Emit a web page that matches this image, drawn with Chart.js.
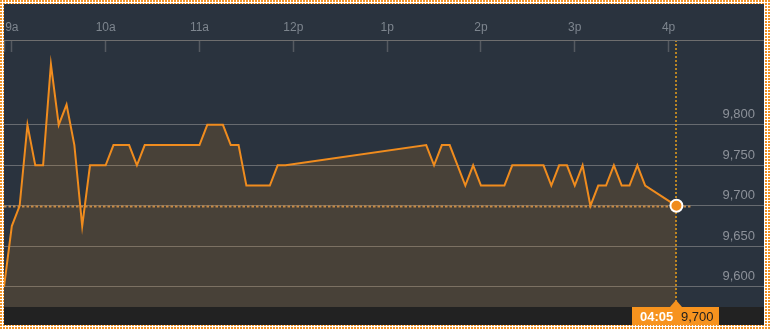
<!DOCTYPE html>
<html>
<head>
<meta charset="utf-8">
<script src="https://cdn.jsdelivr.net/npm/chart.js@4.4.1/dist/chart.umd.min.js"></script>
<style>
  html, body { margin: 0; padding: 0; }
  body {
    width: 770px; height: 330px; position: relative; overflow: hidden;
    background:
      linear-gradient(90deg, transparent 2px, #ffffff 2px) 0 0 / 3px 3px,
      linear-gradient(transparent 2px, #ffffff 2px) 0 0 / 3px 3px,
      #f39325;
  }
  #wrap { position: absolute; left: 4px; top: 4px; width: 760px; height: 321px; background: #2a333e; }
</style>
</head>
<body>
<div id="wrap"><canvas id="priceChart" width="760" height="321"></canvas></div>
<script>
// intraday quotes, 5 minute steps
const times = ['08:55','09:00','09:05','09:10','09:15','09:20','09:25','09:30','09:35','09:40',
  '09:45','09:50','10:00','10:05','10:15','10:20','10:25','11:00','11:05','11:15',
  '11:20','11:25','11:30','11:45','11:50','11:55','13:25','13:30','13:35','13:40',
  '13:50','13:55','14:00','14:15','14:20','14:40','14:45','14:50','14:55','15:00',
  '15:05','15:10','15:15','15:20','15:25','15:30','15:35','15:40','15:45','16:05'];
const prices = [9600,9675,9700,9800,9750,9750,9875,9800,9825,9775,
  9675,9750,9750,9775,9775,9750,9775,9775,9800,9800,
  9775,9775,9725,9725,9750,9750,9775,9750,9775,9775,
  9725,9750,9725,9725,9750,9750,9725,9750,9750,9725,
  9750,9700,9725,9725,9750,9725,9725,9750,9725,9700];

const hourTimes = ['09:00','10:00','11:00','12:00','13:00','14:00','15:00','16:00'];
const hourLabels = ['9a','10a','11a','12p','1p','2p','3p','4p'];
const priceTicks = [9600,9650,9700,9750,9800];

const ORANGE = '#f08c1e';

function toMin(t) {
  const p = t.split(':');
  return +p[0] * 60 + +p[1];
}
function fmt(v) {
  return v.toLocaleString('en-US');
}

const hourMins = hourTimes.map(toMin);
const points = times.map((t, i) => ({ x: toMin(t), y: prices[i] }));
const lastIdx = points.length - 1;

// axis line, bottom band, dotted cross hair and last value tag
const decor = {
  id: 'decor',
  beforeDatasetsDraw(chart) {
    const ctx = chart.ctx, area = chart.chartArea;
    const xs = chart.scales.x, ys = chart.scales.y;
    const px = xs.getPixelForValue(points[lastIdx].x);
    const py = ys.getPixelForValue(points[lastIdx].y);
    ctx.save();
    ctx.setLineDash([2.5, 2]);
    ctx.lineWidth = 2;
    ctx.strokeStyle = '#c08a4c';
    ctx.beginPath();
    ctx.moveTo(area.left, Math.round(py) + 0.5);
    ctx.lineTo(px + 14, Math.round(py) + 0.5);
    ctx.stroke();
    ctx.setLineDash([2, 2]);
    ctx.lineWidth = 1.5;
    ctx.strokeStyle = '#e7a01c';
    ctx.beginPath();
    ctx.moveTo(Math.round(px), xs.bottom - 12);
    ctx.lineTo(Math.round(px), area.bottom);
    ctx.stroke();
    ctx.restore();
  },
  afterDraw(chart) {
    const ctx = chart.ctx, area = chart.chartArea;
    const xs = chart.scales.x;
    ctx.save();
    // top axis line
    ctx.strokeStyle = '#6e6e6e';
    ctx.lineWidth = 1;
    ctx.beginPath();
    ctx.moveTo(0, xs.bottom - 12 + 0.5);
    ctx.lineTo(chart.width, xs.bottom - 12 + 0.5);
    ctx.stroke();
    // bottom band
    ctx.fillStyle = '#222222';
    ctx.fillRect(0, area.bottom, chart.width, chart.height - area.bottom);
    // last value tag
    const px = Math.round(xs.getPixelForValue(points[lastIdx].x));
    const top = area.bottom;
    ctx.fillStyle = '#f7931e';
    ctx.beginPath();
    ctx.moveTo(px - 6, top);
    ctx.lineTo(px, top - 7);
    ctx.lineTo(px + 6, top);
    ctx.closePath();
    ctx.fill();
    ctx.fillRect(px - 44, top, 87, chart.height - top);
    const t = times[lastIdx].split(':');
    const label = String(+t[0] > 12 ? +t[0] - 12 : +t[0]).padStart(2, '0') + ':' + t[1];
    ctx.textBaseline = 'middle';
    ctx.textAlign = 'left';
    ctx.font = 'bold 13px "Liberation Sans", Arial, sans-serif';
    ctx.fillStyle = '#ffffff';
    ctx.fillText(label, px - 36, top + 10);
    ctx.font = '13px "Liberation Sans", Arial, sans-serif';
    ctx.fillStyle = '#1e1e1e';
    ctx.fillText(fmt(prices[lastIdx]), px + 5, top + 10);
    ctx.restore();
  }
};

function renderChart() {
  const ctx = document.getElementById('priceChart').getContext('2d');
  new Chart(ctx, {
    type: 'line',
    data: {
      datasets: [{
        data: points,
        borderColor: ORANGE,
        borderWidth: 2,
        backgroundColor: 'rgba(247,147,30,0.15)',
        fill: 'start',
        tension: 0,
        pointRadius: c => c.dataIndex === lastIdx ? 6 : 0,
        pointHoverRadius: 0,
        pointBackgroundColor: ORANGE,
        pointBorderColor: '#ffffff',
        pointBorderWidth: 2
      }]
    },
    options: {
      responsive: false,
      animation: false,
      events: [],
      layout: { autoPadding: false, padding: { left: 0, right: 0, top: 0, bottom: 18 } },
      plugins: { legend: { display: false }, tooltip: { enabled: false } },
      scales: {
        x: {
          type: 'linear',
          position: 'top',
          min: 535,
          max: 1021,
          afterBuildTicks: s => { s.ticks = [535].concat(hourMins, [1021]).map(v => ({ value: v })); },
          afterFit: s => { s.height = 48; s.paddingLeft = 0; s.paddingRight = 0; },
          border: { display: false },
          grid: { drawOnChartArea: false, drawTicks: true, tickLength: 12, tickColor: '#555a61', tickWidth: 1.5 },
          ticks: {
            autoSkip: false,
            maxRotation: 0,
            padding: 5,
            color: '#7d858e',
            font: { family: '"Liberation Sans", Arial, sans-serif', size: 12 },
            callback: v => { const i = hourMins.indexOf(v); return i >= 0 ? hourLabels[i] : ''; }
          }
        },
        y: {
          type: 'linear',
          position: 'right',
          min: 9575,
          max: 9890,
          afterBuildTicks: s => { s.ticks = priceTicks.map(v => ({ value: v })); },
          afterFit: s => { s.width = 0; s.paddingTop = 0; s.paddingBottom = 0; },
          border: { display: false },
          grid: { color: '#676b70', lineWidth: 1, drawTicks: false },
          ticks: {
            mirror: true,
            padding: -9,
            labelOffset: -10,
            color: '#8c9199',
            font: { family: '"Liberation Sans", Arial, sans-serif', size: 13 },
            callback: v => fmt(v)
          }
        }
      }
    },
    plugins: [decor]
  });
}

window.onload = renderChart;
</script>
</body>
</html>
